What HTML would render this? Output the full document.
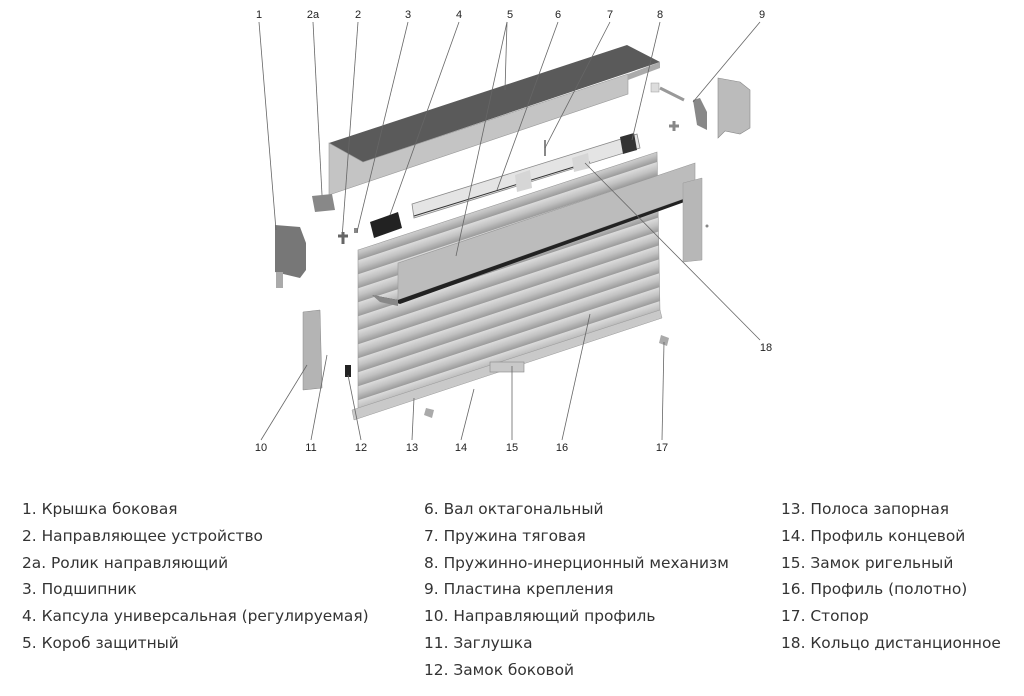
<!DOCTYPE html>
<html><head><meta charset="utf-8"><style>
body{margin:0;width:1024px;height:696px;background:#fff;overflow:hidden;position:relative;font-family:"DejaVu Sans",sans-serif}
.col{position:absolute;top:496px;font-size:15.4px;color:#333;line-height:26.8px;white-space:nowrap}
</style></head><body>
<svg width="1024" height="470" style="position:absolute;left:0;top:0" xmlns="http://www.w3.org/2000/svg">
<defs>
<linearGradient id="sl" x1="0" y1="0" x2="0" y2="1">
<stop offset="0" stop-color="#dcdcdc"/><stop offset="0.5" stop-color="#c2c2c2"/><stop offset="1" stop-color="#9a9a9a"/>
</linearGradient>
<pattern id="slats" patternUnits="userSpaceOnUse" width="400" height="14" patternTransform="skewY(-18.2)">
<rect width="400" height="14" fill="url(#sl)"/>
</pattern>
</defs>
<polygon points="329,143 627,45 660,62 363,162" fill="#5a5a5a"/>
<polygon points="329,143 363,162 628,74 628,94 329,195" fill="#c4c4c4" stroke="#999" stroke-width="0.6"/>
<polygon points="628,74 660,62 660,68 628,80" fill="#aaa"/>
<polygon points="358,250 657,152 660,312 358,418" fill="url(#slats)" stroke="#999" stroke-width="0.6"/>
<polygon points="352,410 660,310 662,318 354,420" fill="#c9c9c9" stroke="#999" stroke-width="0.5"/>
<rect x="490" y="362" width="34" height="10" fill="#c8c8c8" stroke="#888" stroke-width="0.6"/>
<polygon points="398,263 695,163 695,195 398,300" fill="#bcbcbc" stroke="#999" stroke-width="0.6"/>
<polygon points="372,295 398,300 695,195 690,200 400,304" fill="#222"/>
<polygon points="372,295 398,300 398,306 380,302" fill="#888"/>
<polygon points="683,183 702,178 702,260 683,262" fill="#b7b7b7" stroke="#999" stroke-width="0.5"/>
<polygon points="412,204 637,134 640,148 414,218" fill="#e4e4e4" stroke="#888" stroke-width="0.8"/>
<line x1="414" y1="216" x2="590" y2="162" stroke="#333" stroke-width="1"/>
<polygon points="515,175 530,170 532,188 517,192" fill="#d6d6d6"/>
<polygon points="572,158 588,153 590,168 574,172" fill="#d6d6d6"/>
<polygon points="620,137 634,133 637,150 623,154" fill="#333"/>
<polygon points="370,222 398,212 402,228 374,238" fill="#222"/>
<line x1="545" y1="140" x2="545" y2="156" stroke="#888" stroke-width="2"/>
<polygon points="275,225 300,227 306,243 306,270 300,278 275,272" fill="#777"/>
<rect x="276" y="272" width="7" height="16" fill="#aaa"/>
<polygon points="303,312 320,310 322,388 303,390" fill="#b4b4b4" stroke="#888" stroke-width="0.5"/>
<polygon points="312,196 332,194 335,210 315,212" fill="#888"/>
<path d="M338 236 h10 M343 232 v12" stroke="#666" stroke-width="3"/>
<rect x="354" y="228" width="4" height="5" fill="#888"/>
<rect x="345" y="365" width="6" height="12" fill="#222"/>
<polygon points="426,408 434,410 432,418 424,415" fill="#aaa"/>
<polygon points="661,335 669,338 667,346 659,343" fill="#aaa"/>
<rect x="651" y="83" width="8" height="9" fill="#ddd" stroke="#999" stroke-width="0.5"/>
<line x1="660" y1="88" x2="684" y2="100" stroke="#999" stroke-width="3"/>
<path d="M669 126 h10 M674 121 v10" stroke="#888" stroke-width="3"/>
<polygon points="693,100 700,98 707,112 707,130 697,125" fill="#888"/>
<polygon points="718,78 740,82 750,90 750,128 740,134 725,131 718,138" fill="#bbb" stroke="#888" stroke-width="0.6"/>
<circle cx="707" cy="226" r="1.5" fill="#888"/>
<g stroke="#666" stroke-width="0.8" fill="none">
<line x1="259" y1="22" x2="276" y2="230"/>
<line x1="313" y1="22" x2="322" y2="195"/>
<line x1="358" y1="22" x2="342" y2="238"/>
<line x1="408" y1="22" x2="357" y2="232"/>
<line x1="459" y1="22" x2="390" y2="215"/>
<line x1="507" y1="22" x2="505" y2="90"/>
<line x1="507" y1="22" x2="456" y2="256"/>
<line x1="558" y1="22" x2="497" y2="190"/>
<line x1="610" y1="22" x2="545" y2="148"/>
<line x1="660" y1="22" x2="632" y2="140"/>
<line x1="760" y1="22" x2="693" y2="102"/>
<line x1="760" y1="340" x2="585" y2="163"/>
<line x1="261" y1="440" x2="307" y2="365"/>
<line x1="311" y1="440" x2="327" y2="355"/>
<line x1="361" y1="440" x2="348" y2="375"/>
<line x1="412" y1="440" x2="414" y2="398"/>
<line x1="461" y1="440" x2="474" y2="389"/>
<line x1="512" y1="440" x2="512" y2="366"/>
<line x1="562" y1="440" x2="590" y2="314"/>
<line x1="662" y1="440" x2="664" y2="342"/>
</g>
<g font-family="Liberation Sans, sans-serif" font-size="11" fill="#222" text-anchor="middle">
<text x="259" y="18">1</text><text x="313" y="18">2а</text><text x="358" y="18">2</text><text x="408" y="18">3</text>
<text x="459" y="18">4</text><text x="510" y="18">5</text><text x="558" y="18">6</text><text x="610" y="18">7</text>
<text x="660" y="18">8</text><text x="762" y="18">9</text><text x="766" y="351">18</text>
<text x="261" y="451">10</text><text x="311" y="451">11</text><text x="361" y="451">12</text><text x="412" y="451">13</text>
<text x="461" y="451">14</text><text x="512" y="451">15</text><text x="562" y="451">16</text><text x="662" y="451">17</text>
</g>
</svg>
<div class="col" style="left:22px">1. Крышка боковая<br>2. Направляющее устройство<br>2а. Ролик направляющий<br>3. Подшипник<br>4. Капсула универсальная (регулируемая)<br>5. Короб защитный</div>
<div class="col" style="left:424px">6. Вал октагональный<br>7. Пружина тяговая<br>8. Пружинно-инерционный механизм<br>9. Пластина крепления<br>10. Направляющий профиль<br>11. Заглушка<br>12. Замок боковой</div>
<div class="col" style="left:781px">13. Полоса запорная<br>14. Профиль концевой<br>15. Замок ригельный<br>16. Профиль (полотно)<br>17. Стопор<br>18. Кольцо дистанционное</div>
</body></html>
